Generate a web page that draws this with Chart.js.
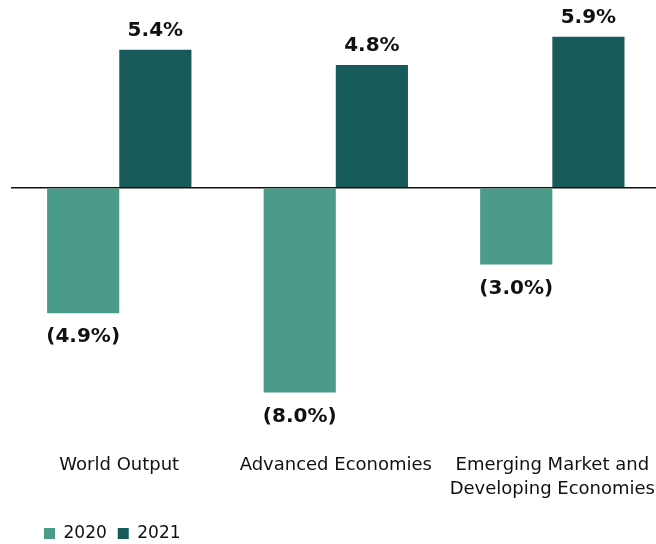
<!DOCTYPE html>
<html>
<head>
<meta charset="utf-8">
<script src="https://cdn.jsdelivr.net/npm/chart.js@4/dist/chart.umd.min.js"></script>
<style>
  html, body { margin: 0; padding: 0; background: #fff; overflow: hidden; }
  #wrap { width: 668px; height: 552px; }
</style>
</head>
<body>
<div id="wrap"><canvas id="chart" width="668" height="552"></canvas></div>
<script>
  const categories = ['World Output', 'Advanced Economies', ['Emerging Market and', 'Developing Economies']];
  const seriesNames = ['2020', '2021'];
  const values2020 = [-4.9, -8.0, -3.0];
  const values2021 = [5.4, 4.8, 5.9];
  const yMin = -9.55;
  const yMax = 6.95;

  const FONT = "'DejaVu Sans', Verdana, sans-serif";
  const LIGHT = '#4a9c88';
  const DARK = '#175a5a';

  function fmtPct(v) {
    const s = Math.abs(v).toFixed(1) + '%';
    return v < 0 ? '(' + s + ')' : s;
  }

  // value labels above / below each bar
  const valueLabels = {
    id: 'valueLabels',
    afterDatasetsDraw(chart) {
      const ctx = chart.ctx;
      ctx.save();
      ctx.font = 'bold 20px ' + FONT;
      ctx.fillStyle = '#111';
      ctx.textAlign = 'center';
      chart.data.datasets.forEach((ds, i) => {
        chart.getDatasetMeta(i).data.forEach((bar, j) => {
          const v = ds.data[j];
          if (v < 0) {
            ctx.textBaseline = 'top';
            ctx.fillText(fmtPct(v), bar.x, bar.y + 14);
          } else {
            ctx.textBaseline = 'alphabetic';
            ctx.fillText(fmtPct(v), bar.x, bar.y - 14);
          }
        });
      });
      ctx.restore();
    }
  };

  // legend sits a bit right of the plot edge in the original
  const legendNudge = {
    id: 'legendNudge',
    afterLayout(chart) {
      const lg = chart.legend;
      if (!lg) return;
      lg.left += 22;
    }
  };

  new Chart(document.getElementById('chart'), {
    type: 'bar',
    data: {
      labels: categories,
      datasets: [
        { label: seriesNames[0], data: values2020, backgroundColor: LIGHT },
        { label: seriesNames[1], data: values2021, backgroundColor: DARK }
      ]
    },
    options: {
      responsive: false,
      animation: false,
      layout: { padding: { top: 10, left: 11, right: 0, bottom: 0 } },
      datasets: { bar: { categoryPercentage: 2 / 3, barPercentage: 1 } },
      plugins: {
        tooltip: { enabled: false },
        legend: {
          position: 'bottom',
          align: 'start',
          labels: {
            boxWidth: 11,
            boxHeight: 11,
            padding: 11,
            color: '#111',
            font: { family: FONT, size: 17 }
          }
        }
      },
      scales: {
        x: {
          grid: { display: false },
          border: { display: false },
          ticks: {
            color: '#111',
            padding: 13,
            maxRotation: 0,
            autoSkip: false,
            font: { family: FONT, size: 18, lineHeight: 1.33 }
          }
        },
        y: {
          min: yMin,
          max: yMax,
          border: { display: false },
          ticks: { display: false, stepSize: 0.05 },
          grid: {
            drawTicks: false,
            lineWidth: 1.5,
            color: (c) => (c.tick && Math.abs(c.tick.value) < 1e-6 ? '#111' : 'rgba(0,0,0,0)')
          }
        }
      }
    },
    plugins: [valueLabels, legendNudge]
  });
</script>
</body>
</html>
